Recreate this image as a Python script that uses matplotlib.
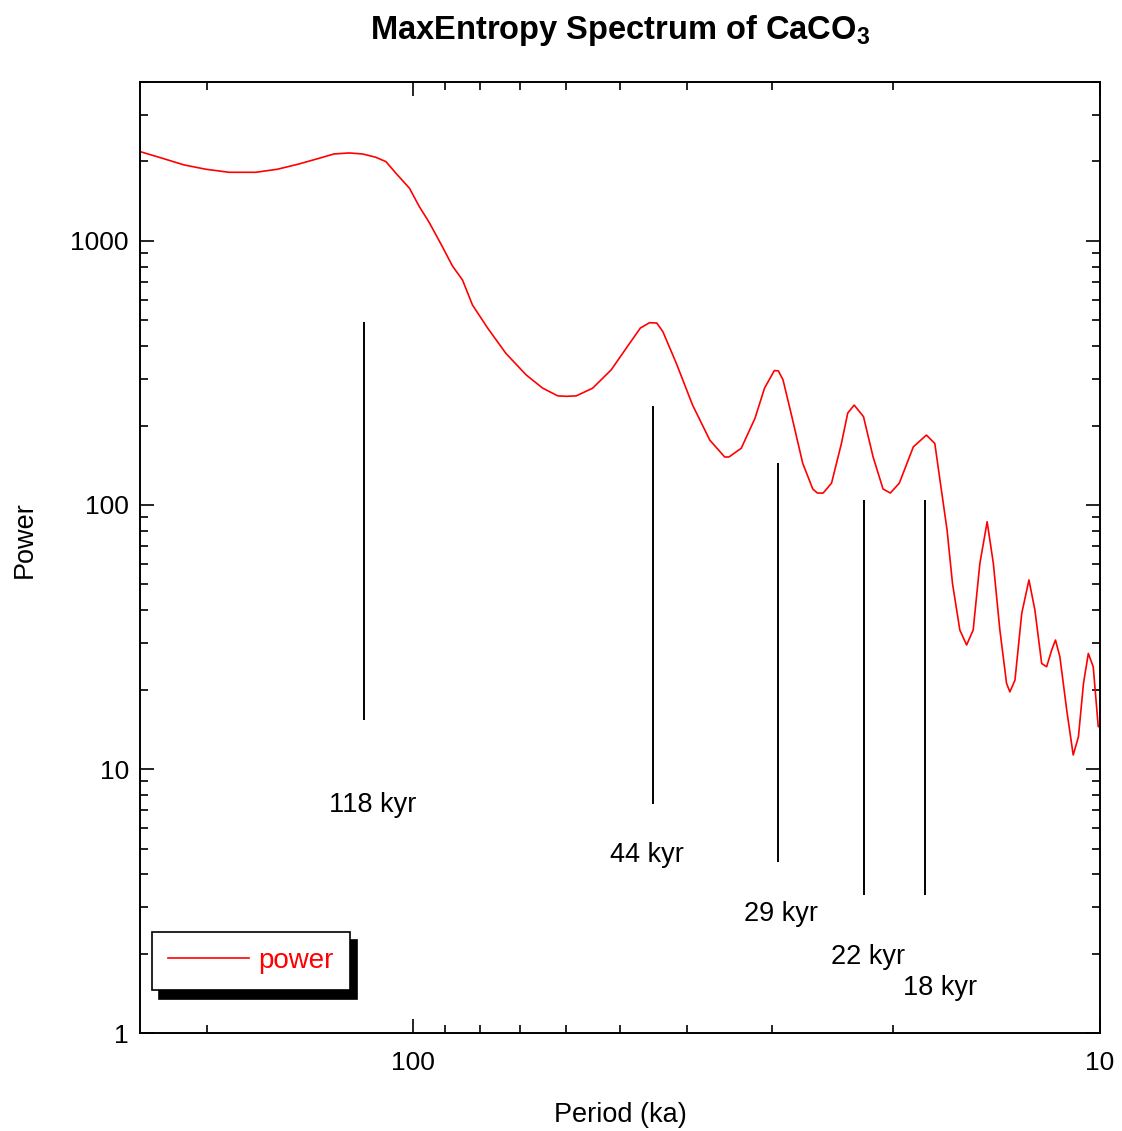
import matplotlib
matplotlib.use('Agg')
import matplotlib.pyplot as plt
from matplotlib import ticker

plt.rcParams['font.family'] = ['Liberation Sans', 'DejaVu Sans']
plt.rcParams['mathtext.default'] = 'regular'

# spectrum: period (ka) and power
period = [250, 232, 215.7, 200.5, 185.4, 169.6, 157.7, 146.6, 137.1, 130.4,
          124.0, 118.6, 113.4, 109.6, 106.0, 101.3, 98.0, 94.8, 91.0, 87.7,
          84.8, 82.0, 77.9, 73.3, 68.5, 64.8, 61.6, 59.8, 57.9, 54.8,
          51.5, 48.4, 46.7, 45.3, 44.2, 43.3, 41.4, 39.2, 37.0, 35.2,
          34.7, 33.3, 31.8, 30.8, 29.8, 29.4, 28.95, 28.1, 27.1, 26.2,
          25.8, 25.3, 24.6, 23.8, 23.3, 22.8, 22.1, 21.4, 20.7, 20.2,
          19.6, 18.7, 17.9, 17.4, 17.1, 16.7, 16.4, 16.0, 15.64, 15.3,
          14.96, 14.6, 14.3, 13.99, 13.68, 13.53, 13.3, 13.0, 12.69, 12.44,
          12.16, 11.96, 11.76, 11.61, 11.44, 11.18, 10.94, 10.75, 10.57, 10.40,
          10.23, 10.06, 10.0]
power = [2180, 2057, 1941, 1869, 1820, 1820, 1869, 1958, 2057, 2136,
         2154, 2136, 2075, 1997, 1805, 1584, 1349, 1175, 966, 804,
         712, 572, 467, 375, 311, 277, 259, 258, 259, 277,
         325, 410, 468, 490, 489, 453, 344, 239, 176, 152,
         152, 164, 213, 277, 323, 322, 298, 216, 144, 115,
         111, 111, 121, 171, 223, 239, 216, 152, 115, 111,
         121, 166, 184, 171, 124, 80.4, 50.5, 33.6, 29.5, 33.6,
         60.1, 86.4, 60.1, 33.6, 21.1, 19.6, 21.7, 38.9, 52.0, 40.0,
         25.1, 24.4, 28.2, 30.8, 26.6, 16.7, 11.3, 13.25, 21.1, 27.4,
         24.4, 14.5, 14.4]

# orbital period markers
mark_period = [118, 44.8, 29.4, 22.1, 18.0]
mark_top = [495, 237, 144, 104.5, 104.5]
mark_bottom = [15.3, 7.4, 4.44, 3.33, 3.33]
mark_labels = ['118 kyr', '44 kyr', '29 kyr', '22 kyr', '18 kyr']
label_x = [114.4, 45.7, 29.1, 21.8, 17.1]
label_y = [6.87, 4.45, 2.66, 1.83, 1.39]

fig = plt.figure(figsize=(11.22, 11.31), dpi=100)
ax = fig.add_axes([0.1248, 0.0866, 0.8556, 0.8409])

ax.plot(period, power, color='red', lw=1.2, label='power')
ax.vlines(mark_period, mark_bottom, mark_top, color='black', lw=1.4)
for x, y, s in zip(label_x, label_y, mark_labels):
    ax.text(x, y, s, ha='center', va='baseline', fontsize=19.5)

ax.set_xscale('log')
ax.set_yscale('log')
ax.set_xlim(250, 10)
ax.set_ylim(1, 4000)
ax.xaxis.set_major_formatter(ticker.FormatStrFormatter('%g'))
ax.yaxis.set_major_formatter(ticker.FormatStrFormatter('%g'))
ax.xaxis.set_minor_formatter(ticker.NullFormatter())
ax.yaxis.set_minor_formatter(ticker.NullFormatter())

ax.tick_params(which='both', direction='in', top=True, right=True, width=1.2)
ax.tick_params(which='major', length=10, labelsize=19)
ax.tick_params(axis='x', which='major', pad=13)
ax.tick_params(axis='y', which='major', pad=8)
ax.tick_params(which='minor', length=5.5)
for sp in ax.spines.values():
    sp.set_linewidth(1.4)

ax.set_title('MaxEntropy Spectrum of CaCO$_3$', fontsize=23.5, fontweight='bold', pad=31)
ax.set_xlabel('Period (ka)', fontsize=19.5)
ax.set_ylabel('Power', fontsize=19.5)
ax.xaxis.set_label_coords(0.5, -0.072)
ax.yaxis.set_label_coords(-0.107, 0.519)

leg = ax.legend(loc='lower left', bbox_to_anchor=(0.0125, 0.045), borderaxespad=0,
                fancybox=False, edgecolor='black', framealpha=1, fontsize=20,
                handlelength=2.9, handletextpad=0.35, borderpad=0.58,
                labelcolor='red',
                shadow={'color': 'black', 'alpha': 1, 'ox': 5, 'oy': -6})
leg.get_frame().set_linewidth(1.2)

fig.savefig('out.png', dpi=100)
